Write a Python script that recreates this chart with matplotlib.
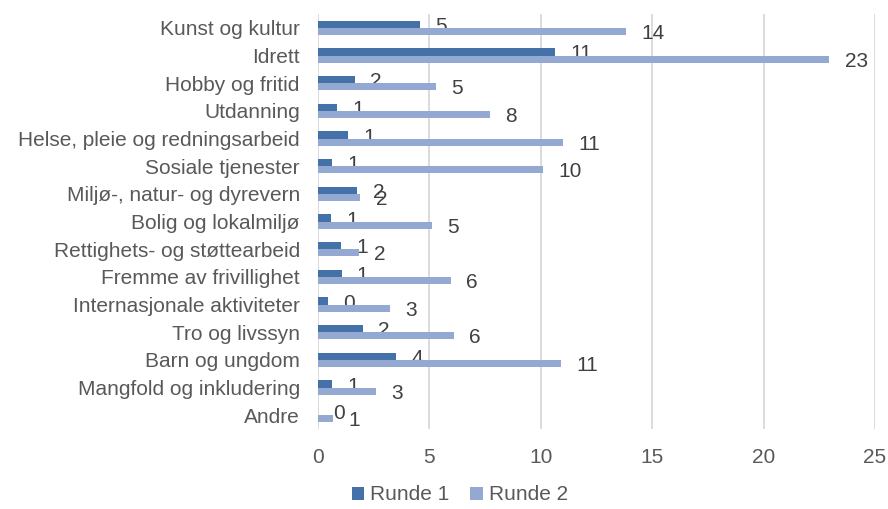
import numpy as np
import matplotlib
matplotlib.use("Agg")
import matplotlib.pyplot as plt

plt.rcParams['font.family'] = ['Liberation Sans', 'DejaVu Sans']

categories = ["Kunst og kultur", "Idrett", "Hobby og fritid", "Utdanning",
              "Helse, pleie og redningsarbeid", "Sosiale tjenester",
              "Miljø-, natur- og dyrevern", "Bolig og lokalmiljø",
              "Rettighets- og støttearbeid", "Fremme av frivillighet",
              "Internasjonale aktiviteter", "Tro og livssyn", "Barn og ungdom",
              "Mangfold og inkludering", "Andre"]
runde1 = [4.58, 10.64, 1.66, 0.84, 1.36, 0.64, 1.77, 0.61, 1.02, 1.06, 0.46, 2.02, 3.52, 0.64, 0.0]
runde2 = [13.83, 22.95, 5.28, 7.71, 10.99, 10.09, 1.90, 5.10, 1.84, 5.96, 3.23, 6.09, 10.9, 2.62, 0.69]
series_names = ["Runde 1", "Runde 2"]
colors = ["#4371A8", "#93A9D2"]

text_col = "#595959"
fs = 15
fig = plt.figure(figsize=(8.88, 5.09), dpi=100)
ax = fig.add_axes([0.358, 0.157, 0.6274, 0.8155])

y = np.arange(len(categories))
h = 0.26
for vals, off, col, name in [(runde1, -h / 2, colors[0], series_names[0]),
                             (runde2, h / 2, colors[1], series_names[1])]:
    ax.barh(y + off, vals, height=h, color=col, label=name, zorder=3)
    # data labels, rounded like the original
    for yi, v in zip(y, vals):
        ax.annotate(f"{v:.0f}", (v, yi + off), xytext=(11, -1.5), textcoords="offset points",
                    ha="left", va="center", fontsize=fs, color="#404040")

ax.set_xlim(0, 25)
ax.set_ylim(len(categories) - 0.5, -0.5)
ax.set_xticks(np.arange(0, 26, 5))
ax.set_yticks(y)
ax.set_yticklabels(categories)
ax.tick_params(axis="both", length=0, labelsize=fs, colors=text_col)
ax.tick_params(axis="x", pad=13.5)
ax.tick_params(axis="y", pad=13)
ax.grid(axis="x", color="#D9D9D9", linewidth=1.3, zorder=0)
for s in ["top", "right", "bottom", "left"]:
    ax.spines[s].set_visible(False)

fig.legend(loc="center", bbox_to_anchor=(460 / 888, 1 - 495 / 509), ncol=2, frameon=False,
           fontsize=fs, handlelength=0.6, handleheight=0.6, handletextpad=0.3,
           columnspacing=1.0, labelcolor=text_col)

fig.savefig("out.png", dpi=100)
